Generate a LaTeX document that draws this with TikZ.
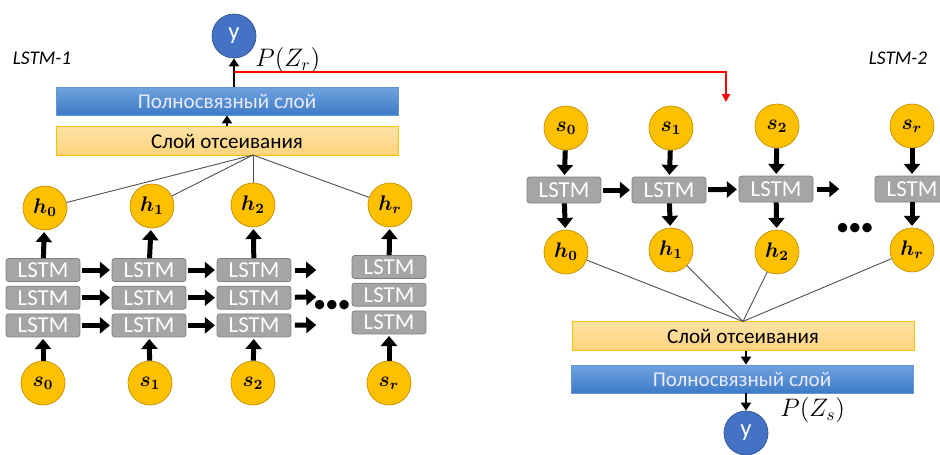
\documentclass[tikz,border=0pt]{standalone}
\usepackage{amsmath}
\usepackage{bm}
\usepackage{fontspec}
\setmainfont{Carlito}
\usepackage{xcolor}
\usepackage{tikz}
\usetikzlibrary{arrows.meta, positioning}
\definecolor{circfill}{HTML}{FFC000}
\definecolor{circedge}{HTML}{C09000}
\definecolor{cellgray}{HTML}{A5A5A5}
\definecolor{celledge}{HTML}{7F7F7F}
\definecolor{outblue}{HTML}{4472C4}
\definecolor{outedge}{HTML}{2F528F}
\definecolor{fctop}{HTML}{6FA3DF}
\definecolor{fcbot}{HTML}{3D7BC7}
\definecolor{droptop}{HTML}{FFE3A6}
\definecolor{dropbot}{HTML}{FFD37C}
\definecolor{dropedge}{HTML}{FFC000}
\tikzset{
  state/.style={circle, draw=circedge, fill=circfill, minimum size=0.88cm, inner sep=0pt, font=\large},
  lstm/.style={rectangle, rounded corners=1.5pt, draw=celledge, fill=cellgray, text=white, minimum width=1.48cm, minimum height=0.46cm, inner sep=0pt, font=\fontsize{13}{14}\selectfont},
  drop/.style={rectangle, draw=dropedge, top color=droptop, bottom color=dropbot, minimum width=6.84cm, minimum height=0.57cm, inner sep=0pt, font=\fontsize{12}{14}\selectfont},
  dense/.style={rectangle, draw=fcbot!80, top color=fctop, bottom color=fcbot, text=white!92!blue, minimum width=6.84cm, minimum height=0.56cm, inner sep=0pt, font=\fontsize{12}{14}\selectfont},
  outnode/.style={circle, draw=outedge, fill=outblue, text=white, minimum size=0.88cm, inner sep=0pt, font=\fontsize{14}{16}\selectfont},
  fat/.style={-{Triangle[length=0.2cm, width=0.32cm]}, line width=0.1cm, shorten >=1pt},
  slim/.style={-{Triangle[length=0.16cm, width=0.2cm]}, line width=1.5pt},
  fan/.style={draw=black!70, line width=0.5pt},
  feed/.style={draw=red, line width=1.1pt, -{Triangle[length=0.16cm, width=0.16cm]}},
  tag/.style={font=\itshape\fontsize{11}{13}\selectfont},
  prob/.style={anchor=west, inner sep=0pt, font=\fontsize{14}{16}\selectfont},
  dots/.style={font=\fontsize{15}{15}\selectfont, inner sep=0pt}
}

\begin{document}
\begin{tikzpicture}[x=0.02cm, y=-0.02cm]
  \useasboundingbox (0,0) rectangle (940,454);

  % LSTM-1
  \node[tag] at (42,58) {LSTM-1};
  \node[outnode] (y1) at (234,36) {y};
  \node[dense] (fc1) at (227,101) {Полносвязный слой};
  \node[drop] (drop1) at (227,141) {Слой отсеивания};
  \node[prob] at (255,60) {$P(Z_r)$};

  \node[state] (h0) at (45,208) {$\bm{h_0}$};
  \node[state] (h1) at (152,206) {$\bm{h_1}$};
  \node[state] (h2) at (253,205) {$\bm{h_2}$};
  \node[state] (hr) at (390,205) {$\bm{h_r}$};

  \node[lstm] (a0) at (43,270) {LSTM};
  \node[lstm, below=0.08cm of a0] (b0) {LSTM};
  \node[lstm, below=0.08cm of b0] (c0) {LSTM};
  \node[lstm] (a1) at (149,270) {LSTM};
  \node[lstm, below=0.08cm of a1] (b1) {LSTM};
  \node[lstm, below=0.08cm of b1] (c1) {LSTM};
  \node[lstm] (a2) at (254,270) {LSTM};
  \node[lstm, below=0.08cm of a2] (b2) {LSTM};
  \node[lstm, below=0.08cm of b2] (c2) {LSTM};
  \node[lstm] (ar) at (389,267) {LSTM};
  \node[lstm, below=0.08cm of ar] (br) {LSTM};
  \node[lstm, below=0.08cm of br] (cr) {LSTM};
  \node[dots] (dl) at (332,306) {\textbullet\kern-0.5pt\textbullet\kern-0.5pt\textbullet};

  \node[state] (s0) at (43,383) {$\bm{s_0}$};
  \node[state] (s1) at (150,383) {$\bm{s_1}$};
  \node[state] (s2) at (253,383) {$\bm{s_2}$};
  \node[state] (sr) at (389,383) {$\bm{s_r}$};

  \coordinate (fan1) at (253,155);
  \coordinate (endA) at (318,270);
  \coordinate (endB) at (318,297);
  \coordinate (endC) at (318,325);
  \coordinate (tap) at (234,72);
  \coordinate (redend) at (726,102);

  \draw[slim] (y1 |- fc1.north) -- (y1);
  \draw[slim] (drop1.north) -- (fc1.south);
  \draw[feed] (tap) -| (redend);
  \draw[fan] (fan1) -- (h0);
  \draw[fan] (fan1) -- (h1);
  \draw[fan] (fan1) -- (h2);
  \draw[fan] (fan1) -- (hr);
  \draw[fat] (a0) -- (h0);
  \draw[fat] (a1) -- (h1);
  \draw[fat] (a2) -- (h2);
  \draw[fat] (ar) -- (hr);
  \draw[fat] (s0) -- (c0);
  \draw[fat] (s1) -- (c1);
  \draw[fat] (s2) -- (c2);
  \draw[fat] (sr) -- (cr);
  \draw[fat, shorten <=1pt] (a0) -- (a1);
  \draw[fat, shorten <=1pt] (b0) -- (b1);
  \draw[fat, shorten <=1pt] (c0) -- (c1);
  \draw[fat, shorten <=1pt] (a1) -- (a2);
  \draw[fat, shorten <=1pt] (b1) -- (b2);
  \draw[fat, shorten <=1pt] (c1) -- (c2);
  \draw[fat, shorten <=2pt] (a2) -- (endA);
  \draw[fat, shorten <=2pt] (b2) -- (endB);
  \draw[fat, shorten <=2pt] (c2) -- (endC);

  % LSTM-2
  \node[tag] at (898,58) {LSTM-2};
  \node[state] (t0) at (566,128) {$\bm{s_0}$};
  \node[state] (t1) at (671,128) {$\bm{s_1}$};
  \node[state] (t2) at (777,126) {$\bm{s_2}$};
  \node[state] (tr) at (912,126) {$\bm{s_r}$};

  \node[lstm, minimum height=0.52cm] (m0) at (564,190) {LSTM};
  \node[lstm, minimum height=0.52cm] (m1) at (669,190) {LSTM};
  \node[lstm, minimum height=0.52cm] (m2) at (776,189) {LSTM};
  \node[lstm, minimum height=0.52cm] (mr) at (912,189) {LSTM};
  \coordinate (endM) at (841,189);
  \node[dots] (dr) at (855,229) {\textbullet\kern-0.5pt\textbullet\kern-0.5pt\textbullet};

  \node[state] (g0) at (566,252) {$\bm{h_0}$};
  \node[state] (g1) at (671,250) {$\bm{h_1}$};
  \node[state] (g2) at (777,252) {$\bm{h_2}$};
  \node[state] (gr) at (912,250) {$\bm{h_r}$};

  \node[drop] (drop2) at (743,336) {Слой отсеивания};
  \node[dense] (fc2) at (742,379) {Полносвязный слой};
  \node[outnode] (y2) at (746,433) {y};
  \node[prob] at (780,410) {$P(Z_s)$};

  \draw[fat] (t0) -- (m0);
  \draw[fat] (t1) -- (m1);
  \draw[fat] (t2) -- (m2);
  \draw[fat] (tr) -- (mr);
  \draw[fat] (m0) -- (g0);
  \draw[fat] (m1) -- (g1);
  \draw[fat] (m2) -- (g2);
  \draw[fat] (mr) -- (gr);
  \draw[fat, shorten <=1pt] (m0) -- (m1);
  \draw[fat, shorten <=1pt] (m1) -- (m2);
  \draw[fat, shorten <=2pt] (m2) -- (endM);
  \draw[fan] (g0) -- (drop2.north);
  \draw[fan] (g1) -- (drop2.north);
  \draw[fan] (g2) -- (drop2.north);
  \draw[fan] (gr) -- (drop2.north);
  \draw[slim] (y2 |- drop2.south) -- (y2 |- fc2.north);
  \draw[slim] (y2 |- fc2.south) -- (y2);
\end{tikzpicture}
\end{document}
